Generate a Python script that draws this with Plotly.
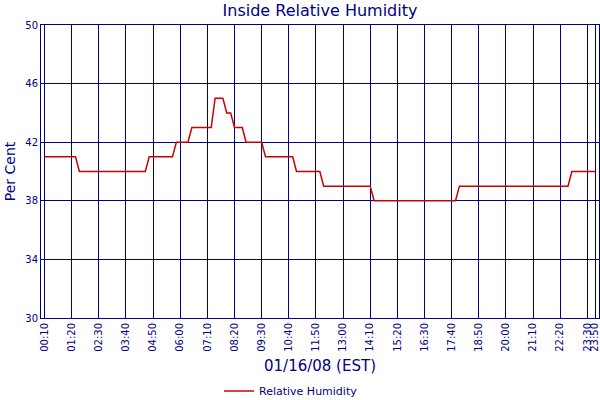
import plotly.graph_objects as go

# readings where the humidity level changes (10 minute samples in between are flat)
times = ["00:10", "01:30", "01:40", "04:30", "04:40", "05:40", "05:50", "06:20",
         "06:30", "07:20", "07:30", "07:50", "08:00", "08:10", "08:20", "08:40",
         "08:50", "09:30", "09:40", "10:50", "11:00", "12:00", "12:10", "14:10",
         "14:20", "17:50", "18:00", "22:40", "22:50", "23:50"]
humidity = [41, 41, 40, 40, 41, 41, 42, 42,
            43, 43, 45, 45, 44, 44, 43, 43,
            42, 42, 41, 41, 40, 40, 39, 39,
            38, 38, 39, 39, 40, 40]

tick_times = ["00:10", "01:20", "02:30", "03:40", "04:50", "06:00", "07:10",
              "08:20", "09:30", "10:40", "11:50", "13:00", "14:10", "15:20",
              "16:30", "17:40", "18:50", "20:00", "21:10", "22:20", "23:30", "23:50"]

day = "2008-01-16 "
navy = "#000080"
font = "DejaVu Sans"

fig = go.Figure(go.Scatter(
    x=[day + t for t in times], y=humidity,
    mode="lines", name="Relative Humidity",
    line=dict(color="#CC0000", width=1.5),
))

fig.update_layout(
    width=600, height=400,
    paper_bgcolor="white", plot_bgcolor="white",
    margin=dict(l=41, r=1, t=25, b=82, autoexpand=False),
    font=dict(family=font, color=navy),
    title=dict(text="Inside Relative Humidity", x=(41 + 599) / 2 / 600, xanchor="center",
               y=1 - 10 / 400, yanchor="middle", font=dict(size=16, color=navy)),
    showlegend=True,
    legend=dict(orientation="h", x=(291 - 41) / 558, xanchor="center",
                y=(318 - 391) / 293, yanchor="middle", font=dict(size=11, color=navy)),
)

fig.update_xaxes(
    type="date",
    range=[day + "00:01", "2008-01-17 00:00"],
    tickvals=[day + t for t in tick_times], ticktext=tick_times,
    tickangle=-90, tickfont=dict(size=10, color=navy), ticklabeloverflow="allow",
    showgrid=True, gridcolor=navy, gridwidth=1,
    showline=True, linecolor=navy, linewidth=1, mirror=True,
    ticks="", automargin=False,
    title=dict(text="01/16/08 (EST)", font=dict(size=15, color=navy), standoff=9),
)
fig.update_yaxes(
    range=[30, 50], tick0=30, dtick=4,
    tickfont=dict(size=10, color=navy),
    showgrid=True, gridcolor=navy, gridwidth=1,
    showline=True, linecolor=navy, linewidth=1, mirror=True,
    zeroline=False, ticks="", automargin=False,
    title=dict(text="Per Cent", font=dict(size=14, color=navy), standoff=6),
)

# the page body has a default 8px margin; drop it so the chart fills the window
fig.write_html("out.html", config={"displayModeBar": False},
               post_script="document.body.style.margin = '0';")
